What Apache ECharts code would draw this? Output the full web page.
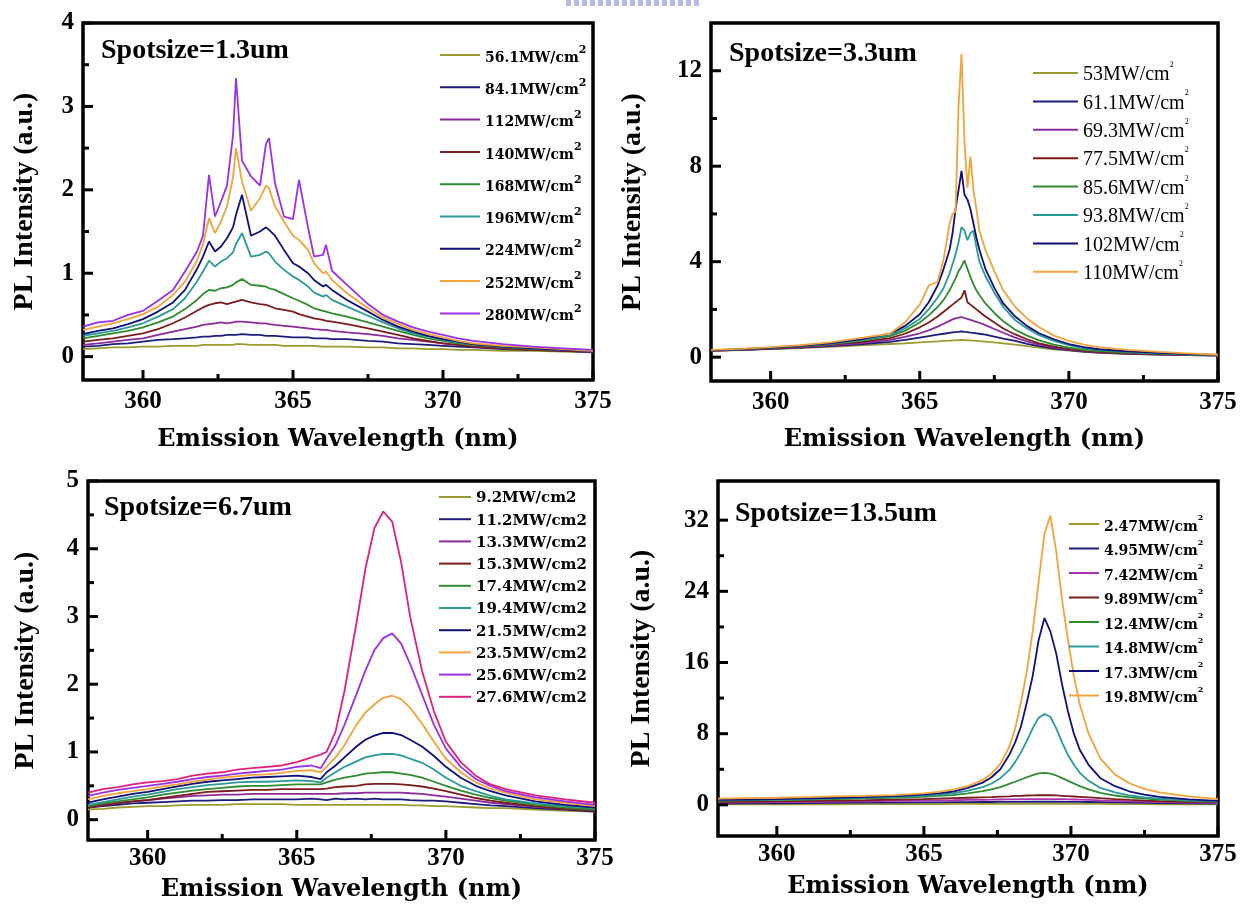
<!DOCTYPE html>
<html><head><meta charset="utf-8">
<script src="https://cdn.jsdelivr.net/npm/echarts@6/dist/echarts.min.js"></script>
<style>html,body{margin:0;padding:0;background:#fff}#c{width:1250px;height:911px}</style>
</head><body><div id="c"></div>
<script>
// ---------- tick labels ----------
const X_TICKS = [360, 365, 370, 375];
const X_MINOR = [362.5, 367.5, 372.5];
const P1_YTICKS = [0, 1, 2, 3, 4];
const P1_YMINOR = [0.5, 1.5, 2.5, 3.5];
const P2_YTICKS = [0, 4, 8, 12];
const P2_YMINOR = [2, 6, 10];
const P3_YTICKS = [0, 1, 2, 3, 4, 5];
const P3_YMINOR = [0.5, 1.5, 2.5, 3.5, 4.5];
const P4_YTICKS = [0, 8, 16, 24, 32];
const P4_YMINOR = [4, 12, 20, 28];

const SPOT_LABELS = ['Spotsize=1.3um', 'Spotsize=3.3um', 'Spotsize=6.7um', 'Spotsize=13.5um'];
const X_NAME = 'Emission Wavelength (nm)';
const Y_NAME = 'PL Intensity (a.u.)';

// ---------- panel 1 (spot 1.3 um) ----------
const P1_X = [358,358.5,359,359.5,360,360.5,361,361.4,361.8,362,362.2,362.4,362.6,362.8,363,363.1,363.3,363.6,363.9,364.1,364.2,364.4,364.7,365,365.2,365.5,365.7,366,366.1,366.3,366.8,367.5,368,368.5,369,369.5,370,370.5,371,372,373,374,375];
const P1_NAMES = ['56.1MW/cm2','84.1MW/cm2','112MW/cm2','140MW/cm2','168MW/cm2','196MW/cm2','224MW/cm2','252MW/cm2','280MW/cm2'];
const P1_56  = [0.09,0.10,0.11,0.11,0.12,0.12,0.13,0.13,0.13,0.14,0.14,0.14,0.14,0.14,0.14,0.15,0.15,0.14,0.14,0.14,0.14,0.14,0.13,0.13,0.13,0.13,0.13,0.12,0.12,0.12,0.12,0.11,0.11,0.10,0.10,0.09,0.09,0.08,0.08,0.07,0.07,0.06,0.05];
const P1_84  = [0.12,0.13,0.15,0.16,0.18,0.20,0.21,0.22,0.23,0.24,0.24,0.25,0.25,0.26,0.26,0.26,0.27,0.26,0.26,0.25,0.25,0.25,0.24,0.23,0.23,0.23,0.22,0.22,0.22,0.21,0.21,0.19,0.18,0.16,0.15,0.14,0.13,0.12,0.11,0.09,0.08,0.07,0.05];
const P1_112 = [0.14,0.16,0.18,0.20,0.22,0.26,0.30,0.33,0.36,0.38,0.39,0.40,0.41,0.40,0.41,0.42,0.42,0.41,0.40,0.40,0.39,0.38,0.37,0.36,0.35,0.34,0.33,0.32,0.32,0.31,0.29,0.27,0.25,0.22,0.20,0.18,0.16,0.14,0.12,0.10,0.08,0.07,0.06];
const P1_140 = [0.18,0.20,0.22,0.25,0.28,0.33,0.40,0.47,0.55,0.59,0.62,0.64,0.65,0.63,0.65,0.66,0.68,0.65,0.63,0.62,0.61,0.58,0.56,0.54,0.51,0.48,0.46,0.44,0.43,0.42,0.39,0.34,0.30,0.26,0.22,0.19,0.16,0.14,0.12,0.10,0.08,0.07,0.06];
const P1_168 = [0.22,0.25,0.28,0.31,0.35,0.41,0.48,0.57,0.68,0.75,0.80,0.79,0.82,0.83,0.86,0.89,0.93,0.86,0.85,0.84,0.82,0.80,0.75,0.70,0.67,0.62,0.58,0.55,0.54,0.52,0.48,0.41,0.36,0.31,0.26,0.22,0.19,0.16,0.14,0.11,0.09,0.08,0.07];
const P1_196 = [0.25,0.28,0.31,0.35,0.40,0.48,0.57,0.70,0.90,1.02,1.15,1.08,1.14,1.18,1.25,1.35,1.48,1.20,1.22,1.26,1.24,1.14,1.04,0.96,0.92,0.84,0.77,0.72,0.74,0.68,0.60,0.49,0.41,0.34,0.28,0.24,0.20,0.17,0.15,0.12,0.10,0.08,0.07];
const P1_224 = [0.27,0.31,0.34,0.39,0.45,0.54,0.65,0.80,1.05,1.20,1.38,1.26,1.32,1.42,1.55,1.70,1.94,1.45,1.50,1.55,1.52,1.45,1.28,1.12,1.08,1.00,0.92,0.84,0.86,0.80,0.68,0.54,0.44,0.36,0.30,0.25,0.21,0.18,0.15,0.12,0.10,0.08,0.07];
const P1_252 = [0.32,0.36,0.40,0.45,0.51,0.60,0.74,0.90,1.15,1.35,1.66,1.48,1.62,1.80,2.15,2.50,2.10,1.75,1.90,2.05,2.02,1.80,1.62,1.45,1.40,1.28,1.12,1.00,1.02,0.92,0.76,0.58,0.47,0.39,0.32,0.27,0.23,0.19,0.16,0.13,0.11,0.09,0.07];
const P1_280 = [0.36,0.41,0.43,0.50,0.55,0.67,0.80,1.02,1.26,1.45,2.18,1.68,1.86,2.05,2.65,3.34,2.35,2.16,2.05,2.55,2.62,2.08,1.68,1.65,2.12,1.55,1.20,1.22,1.34,1.03,0.86,0.63,0.50,0.42,0.35,0.30,0.26,0.22,0.19,0.15,0.12,0.10,0.08];

// ---------- panel 2 (spot 3.3 um) ----------
const P2_X = [358,359,360,361,362,363,364,364.5,365,365.3,365.6,365.8,366,366.1,366.2,366.3,366.4,366.5,366.6,366.7,366.8,366.9,367,367.2,367.5,367.8,368.2,368.6,369,369.5,370,370.5,371,372,373,374,375];
const P2_NAMES = ['53MW/cm2','61.1MW/cm2','69.3MW/cm2','77.5MW/cm2','85.6MW/cm2','93.8MW/cm2','102MW/cm2','110MW/cm2'];
const P2_53  = [0.26,0.29,0.34,0.38,0.43,0.49,0.55,0.58,0.62,0.64,0.66,0.68,0.69,0.70,0.70,0.71,0.72,0.71,0.70,0.70,0.69,0.68,0.67,0.65,0.62,0.58,0.52,0.46,0.40,0.33,0.27,0.22,0.18,0.14,0.11,0.08,0.06];
const P2_611 = [0.27,0.30,0.35,0.40,0.46,0.54,0.64,0.72,0.82,0.88,0.94,0.98,1.02,1.04,1.05,1.06,1.08,1.06,1.05,1.03,1.02,1.00,0.98,0.94,0.86,0.78,0.68,0.56,0.46,0.36,0.29,0.23,0.19,0.14,0.11,0.09,0.07];
const P2_693 = [0.27,0.30,0.36,0.42,0.49,0.58,0.72,0.85,1.00,1.12,1.28,1.40,1.52,1.58,1.62,1.66,1.68,1.64,1.60,1.56,1.52,1.48,1.44,1.34,1.18,1.02,0.82,0.66,0.52,0.40,0.31,0.25,0.20,0.15,0.12,0.09,0.07];
const P2_775 = [0.27,0.31,0.37,0.44,0.52,0.63,0.80,0.98,1.25,1.45,1.70,1.90,2.10,2.20,2.30,2.40,2.50,2.80,2.30,2.20,2.10,2.00,1.90,1.70,1.45,1.20,0.95,0.75,0.58,0.44,0.34,0.27,0.22,0.16,0.13,0.10,0.07];
const P2_856 = [0.28,0.32,0.39,0.46,0.55,0.68,0.88,1.10,1.45,1.75,2.10,2.40,2.80,3.05,3.30,3.60,3.80,4.05,3.70,3.35,3.05,2.80,2.60,2.25,1.85,1.50,1.15,0.90,0.70,0.52,0.40,0.31,0.25,0.19,0.15,0.11,0.08];
const P2_938 = [0.28,0.33,0.40,0.47,0.56,0.70,0.92,1.20,1.60,2.00,2.50,2.90,3.50,3.90,4.30,4.80,5.45,5.30,4.90,5.20,5.30,4.60,4.00,3.40,2.70,2.10,1.55,1.20,0.92,0.68,0.50,0.38,0.30,0.22,0.17,0.12,0.09];
const P2_102 = [0.28,0.33,0.40,0.48,0.58,0.74,0.98,1.30,1.80,2.30,3.00,3.70,4.50,5.20,6.20,7.00,7.80,6.80,6.60,6.20,5.60,5.00,4.50,3.70,2.90,2.25,1.70,1.30,1.00,0.75,0.55,0.42,0.33,0.24,0.18,0.13,0.09];
const P2_110 = [0.30,0.35,0.42,0.50,0.62,0.80,0.98,1.45,2.20,3.00,3.15,4.10,5.60,6.00,6.10,10.5,12.7,9.0,7.1,8.4,7.0,6.2,5.3,4.5,3.6,2.8,2.1,1.62,1.25,0.90,0.68,0.52,0.42,0.30,0.22,0.16,0.10];

// ---------- panel 3 (spot 6.7 um) ----------
const P3_X = [358,358.5,359,359.5,360,360.5,361,361.5,362,362.5,363,363.5,364,364.5,365,365.5,365.8,366,366.3,366.6,367,367.3,367.6,367.9,368.2,368.5,368.8,369.2,369.6,370,370.5,371,371.5,372,373,374,375];
const P3_NAMES = ['9.2MW/cm2','11.2MW/cm2','13.3MW/cm2','15.3MW/cm2','17.4MW/cm2','19.4MW/cm2','21.5MW/cm2','23.5MW/cm2','25.6MW/cm2','27.6MW/cm2'];
const P3_92  = [0.15,0.16,0.18,0.19,0.20,0.20,0.21,0.22,0.22,0.22,0.23,0.23,0.23,0.23,0.22,0.22,0.22,0.22,0.22,0.22,0.22,0.22,0.22,0.22,0.22,0.22,0.21,0.21,0.20,0.20,0.19,0.18,0.17,0.17,0.15,0.13,0.12];
const P3_112 = [0.18,0.20,0.22,0.24,0.25,0.26,0.27,0.28,0.28,0.29,0.29,0.30,0.30,0.30,0.30,0.31,0.30,0.29,0.31,0.30,0.31,0.30,0.31,0.30,0.30,0.30,0.29,0.28,0.28,0.27,0.25,0.23,0.21,0.20,0.17,0.15,0.12];
const P3_133 = [0.20,0.23,0.25,0.27,0.29,0.31,0.33,0.35,0.36,0.37,0.37,0.38,0.38,0.38,0.38,0.38,0.38,0.38,0.38,0.39,0.39,0.40,0.40,0.40,0.40,0.40,0.39,0.38,0.36,0.34,0.31,0.28,0.25,0.23,0.19,0.16,0.14];
const P3_153 = [0.18,0.21,0.24,0.27,0.29,0.32,0.35,0.38,0.41,0.42,0.43,0.44,0.44,0.45,0.45,0.45,0.45,0.46,0.48,0.49,0.50,0.52,0.53,0.53,0.53,0.52,0.51,0.49,0.46,0.42,0.37,0.32,0.28,0.25,0.20,0.16,0.13];
const P3_174 = [0.20,0.24,0.27,0.30,0.33,0.37,0.40,0.43,0.45,0.47,0.49,0.50,0.50,0.51,0.52,0.52,0.52,0.55,0.59,0.62,0.65,0.68,0.69,0.70,0.70,0.68,0.66,0.62,0.56,0.50,0.43,0.37,0.32,0.28,0.22,0.18,0.15];
const P3_194 = [0.22,0.26,0.30,0.34,0.37,0.41,0.45,0.48,0.51,0.53,0.55,0.56,0.56,0.57,0.58,0.57,0.55,0.62,0.70,0.78,0.86,0.92,0.95,0.97,0.97,0.95,0.90,0.84,0.74,0.62,0.50,0.42,0.35,0.30,0.24,0.20,0.17];
const P3_215 = [0.25,0.30,0.34,0.38,0.41,0.45,0.49,0.53,0.56,0.58,0.60,0.62,0.63,0.64,0.65,0.63,0.60,0.70,0.80,0.92,1.08,1.18,1.24,1.28,1.28,1.25,1.18,1.08,0.94,0.78,0.62,0.50,0.42,0.36,0.27,0.22,0.18];
const P3_235 = [0.30,0.35,0.39,0.42,0.45,0.49,0.52,0.56,0.59,0.62,0.64,0.66,0.67,0.69,0.72,0.73,0.70,0.78,0.92,1.10,1.40,1.58,1.70,1.80,1.83,1.78,1.65,1.42,1.15,0.90,0.70,0.55,0.46,0.40,0.30,0.25,0.20];
const P3_256 = [0.35,0.40,0.44,0.47,0.50,0.53,0.56,0.60,0.63,0.65,0.68,0.70,0.72,0.74,0.78,0.80,0.76,0.90,1.10,1.40,1.85,2.20,2.50,2.68,2.75,2.60,2.30,1.85,1.40,1.05,0.78,0.60,0.50,0.42,0.33,0.27,0.22];
const P3_276 = [0.40,0.45,0.48,0.52,0.55,0.57,0.60,0.65,0.68,0.70,0.74,0.76,0.78,0.80,0.85,0.92,0.96,1.00,1.30,1.90,2.90,3.70,4.30,4.55,4.40,3.80,3.00,2.20,1.60,1.15,0.85,0.65,0.52,0.45,0.36,0.30,0.25];

// ---------- panel 4 (spot 13.5 um) ----------
const P4_X = [358,359,360,361,362,363,364,365,365.5,366,366.5,367,367.3,367.6,367.9,368.1,368.3,368.5,368.7,368.9,369.1,369.3,369.5,369.7,369.9,370.1,370.3,370.6,371,371.5,372,372.5,373,374,375];
const P4_NAMES = ['2.47MW/cm2','4.95MW/cm2','7.42MW/cm2','9.89MW/cm2','12.4MW/cm2','14.8MW/cm2','17.3MW/cm2','19.8MW/cm2'];
const P4_247 = [0.05,0.06,0.06,0.07,0.07,0.08,0.08,0.09,0.09,0.10,0.10,0.10,0.10,0.11,0.11,0.11,0.11,0.11,0.12,0.12,0.12,0.12,0.12,0.11,0.11,0.11,0.11,0.10,0.10,0.09,0.08,0.08,0.07,0.06,0.05];
const P4_495 = [0.15,0.17,0.18,0.20,0.22,0.24,0.26,0.28,0.29,0.30,0.31,0.32,0.32,0.33,0.33,0.34,0.34,0.34,0.35,0.35,0.35,0.35,0.35,0.34,0.34,0.33,0.33,0.32,0.30,0.28,0.25,0.22,0.20,0.17,0.15];
const P4_742 = [0.25,0.28,0.30,0.33,0.36,0.40,0.44,0.48,0.50,0.52,0.55,0.57,0.58,0.60,0.61,0.62,0.63,0.63,0.64,0.64,0.65,0.64,0.64,0.63,0.62,0.60,0.58,0.55,0.50,0.45,0.40,0.36,0.32,0.26,0.22];
const P4_989 = [0.35,0.38,0.40,0.44,0.48,0.52,0.58,0.65,0.70,0.75,0.80,0.85,0.88,0.92,0.96,1.00,1.02,1.05,1.06,1.08,1.10,1.08,1.06,1.02,0.98,0.94,0.90,0.84,0.75,0.65,0.56,0.48,0.42,0.35,0.30];
const P4_124 = [0.45,0.50,0.55,0.60,0.66,0.72,0.80,0.90,1.00,1.10,1.30,1.55,1.75,2.00,2.35,2.60,2.85,3.10,3.35,3.55,3.60,3.50,3.30,3.00,2.70,2.40,2.10,1.75,1.35,1.05,0.85,0.70,0.60,0.45,0.35];
const P4_148 = [0.50,0.55,0.60,0.65,0.72,0.80,0.88,1.00,1.12,1.30,1.60,2.00,2.40,3.00,3.90,4.80,5.90,7.20,8.60,9.80,10.2,9.90,8.60,7.00,5.60,4.50,3.60,2.70,1.90,1.40,1.05,0.85,0.70,0.50,0.40];
const P4_173 = [0.55,0.60,0.65,0.72,0.80,0.88,0.98,1.15,1.30,1.50,1.90,2.50,3.10,4.00,5.60,7.00,8.80,11.5,14.5,18.5,21.0,19.5,17.0,13.5,10.5,8.0,6.2,4.5,3.0,2.1,1.5,1.15,0.90,0.62,0.45];
const P4_198 = [0.70,0.75,0.80,0.88,0.95,1.02,1.10,1.30,1.45,1.70,2.10,2.80,3.50,4.60,6.50,8.50,11.5,15.0,19.5,25.0,30.5,32.5,28.5,23.0,18.5,14.5,11.3,8.0,5.2,3.4,2.4,1.8,1.4,0.95,0.65];

// ---------- styles ----------
const C = {olive:'#9a9a2e', navy:'#1c1c7a', purple:'#8c2a9c', red:'#7a1c1c', green:'#2e8b2e',
           teal:'#2a9a98', navy2:'#10107a', orange:'#f2a33a', violet:'#9b30e8', magenta:'#e0207e', pm:'#b030b0'};

const PANELS = [
  { xs:P1_X, names:P1_NAMES, ys:[P1_56,P1_84,P1_112,P1_140,P1_168,P1_196,P1_224,P1_252,P1_280],
    colors:[C.olive,C.navy,C.purple,C.red,C.green,C.teal,C.navy2,C.orange,C.violet],
    grid:{left:83, top:23, width:510, height:357}, ymin:-0.28, ymax:4, yt:P1_YTICKS, ym:P1_YMINOR,
    xGap:48, yGap:44, lblMargin:9,
    legend:{left:440, top:45, itemWidth:40, gap:12.3, sup:true, font:'DejaVu Serif', size:14, weight:'bold', lh:20, supSize:11},
    spot:[101, 37] },
  { xs:P2_X, names:P2_NAMES, ys:[P2_53,P2_611,P2_693,P2_775,P2_856,P2_938,P2_102,P2_110],
    colors:[C.olive,C.navy,C.purple,C.red,C.green,C.teal,C.navy2,C.orange],
    grid:{left:711, top:23, width:507, height:358}, ymin:-1, ymax:14, yt:P2_YTICKS, ym:P2_YMINOR,
    xGap:47, yGap:64, lblMargin:9,
    legend:{left:1033, top:61, itemWidth:45, gap:4.4, sup:true, font:'Liberation Serif', size:20, weight:'normal', lh:24, supSize:8},
    spot:[729, 40] },
  { xs:P3_X, names:P3_NAMES, ys:[P3_92,P3_112,P3_133,P3_153,P3_174,P3_194,P3_215,P3_235,P3_256,P3_276],
    colors:[C.olive,C.navy,C.purple,C.red,C.green,C.teal,C.navy2,C.orange,C.violet,C.magenta],
    grid:{left:88, top:481, width:507, height:359}, ymin:-0.3, ymax:5, yt:P3_YTICKS, ym:P3_YMINOR,
    xGap:38, yGap:48, lblMargin:6,
    legend:{left:439, top:488, itemWidth:32, gap:4.2, sup:false, font:'DejaVu Serif', size:15, weight:'bold', lh:18, supSize:9},
    spot:[104, 494] },
  { xs:P4_X, names:P4_NAMES, ys:[P4_247,P4_495,P4_742,P4_989,P4_124,P4_148,P4_173,P4_198],
    colors:[C.olive,C.navy,C.pm,C.red,C.green,C.teal,C.navy2,C.orange],
    grid:{left:718, top:481, width:500, height:355}, ymin:-3.5, ymax:36.4, yt:P4_YTICKS, ym:P4_YMINOR,
    xGap:39, yGap:62, lblMargin:6,
    legend:{left:1069, top:514, itemWidth:30, gap:4.5, sup:true, font:'DejaVu Serif', size:14, weight:'bold', lh:20, supSize:8},
    spot:[735, 500] }
];

const TICK_FONT = {color:'#000', fontFamily:'Liberation Serif', fontWeight:'bold', fontSize:25};
const NOLINE = {show:false, onZero:false};
const MAJOR_LEN = 10, MINOR_LEN = 6;

// tick marks, placed through the axes' own scales (api.coord)
function tickRender(params, api) {
  const cs = params.coordSys;
  const v = api.value(0), dir = api.value(1), len = api.value(2);
  if (dir === 0) {
    const px = api.coord([v, 0])[0];
    const b = cs.y + cs.height;
    return {type:'line', shape:{x1:px, y1:b, x2:px, y2:b - len}, style:{stroke:'#000', lineWidth:3}};
  }
  const py = api.coord([358, v])[1];
  return {type:'line', shape:{x1:cs.x, y1:py, x2:cs.x + len, y2:py}, style:{stroke:'#000', lineWidth:3}};
}

const grids = [], xAxes = [], yAxes = [], series = [], legends = [], graphics = [];
PANELS.forEach((p, gi) => {
  grids.push(Object.assign({show:true, borderColor:'#000', borderWidth:3.5, backgroundColor:'transparent'}, p.grid));
  xAxes.push({type:'value', gridIndex:gi, min:358, max:375, position:'bottom',
    axisLine:NOLINE, splitLine:{show:false}, axisTick:{show:false},
    axisLabel:Object.assign({customValues:X_TICKS, margin:p.lblMargin}, TICK_FONT),
    name:X_NAME, nameLocation:'middle', nameGap:p.xGap,
    nameTextStyle:{color:'#000', fontFamily:'DejaVu Serif', fontWeight:'bold', fontSize:24}});
  yAxes.push({type:'value', gridIndex:gi, min:p.ymin, max:p.ymax, position:'left',
    axisLine:NOLINE, splitLine:{show:false}, axisTick:{show:false},
    axisLabel:Object.assign({customValues:p.yt, margin:9}, TICK_FONT),
    name:Y_NAME, nameLocation:'middle', nameGap:p.yGap,
    nameTextStyle:{color:'#000', fontFamily:'Liberation Serif', fontWeight:'bold', fontSize:28}});
  p.names.forEach((n, k) => {
    series.push({type:'line', name:n, xAxisIndex:gi, yAxisIndex:gi, showSymbol:false, symbol:'none',
      animation:false, lineStyle:{width:1.8, color:p.colors[k]}, itemStyle:{color:p.colors[k]},
      data:p.xs.map((x, i) => [x, p.ys[k][i]])});
  });
  const ticks = [].concat(
    X_TICKS.map(v => [v, 0, MAJOR_LEN]), X_MINOR.map(v => [v, 0, MINOR_LEN]),
    p.yt.map(v => [v, 1, MAJOR_LEN]), p.ym.map(v => [v, 1, MINOR_LEN]));
  series.push({type:'custom', name:'ticks' + gi, xAxisIndex:gi, yAxisIndex:gi, clip:false, silent:true,
    animation:false, z:5, renderItem:tickRender, data:ticks, encode:{x:0, y:1}});
  const L = p.legend;
  legends.push({orient:'vertical', left:L.left, top:L.top, padding:0, itemGap:L.gap,
    itemWidth:L.itemWidth, itemHeight:2, icon:'rect', data:p.names, selectedMode:false,
    formatter: L.sup ? (n => '{a|' + n.slice(0, -1) + '}{s|2}') : (n => '{a|' + n + '}'),
    textStyle:{color:'#000', fontFamily:L.font, fontWeight:L.weight, fontSize:L.size, lineHeight:L.lh,
      rich:{a:{color:'#000', fontFamily:L.font, fontWeight:L.weight, fontSize:L.size, lineHeight:L.lh, verticalAlign:'bottom'},
            s:{color:'#000', fontFamily:L.font, fontWeight:L.weight, fontSize:L.supSize, lineHeight:L.supSize + 2, verticalAlign:'top'}}}});
  graphics.push({type:'text', left:p.spot[0], top:p.spot[1], z:10,
    style:{text:SPOT_LABELS[gi], font:'bold 28px "Liberation Serif"', fill:'#000'}});
});
// faint dotted strip at the top edge of the scanned figure
graphics.push({type:'line', z:1, shape:{x1:566, y1:3, x2:700, y2:3},
  style:{stroke:'#b4bbea', lineWidth:6, lineDash:[5, 3]}});

const chart = echarts.init(document.getElementById('c'), null, {renderer:'canvas'});
chart.setOption({backgroundColor:'#fff', animation:false, grid:grids, xAxis:xAxes, yAxis:yAxes,
  series:series, legend:legends, graphic:graphics});
</script>
</body></html>
